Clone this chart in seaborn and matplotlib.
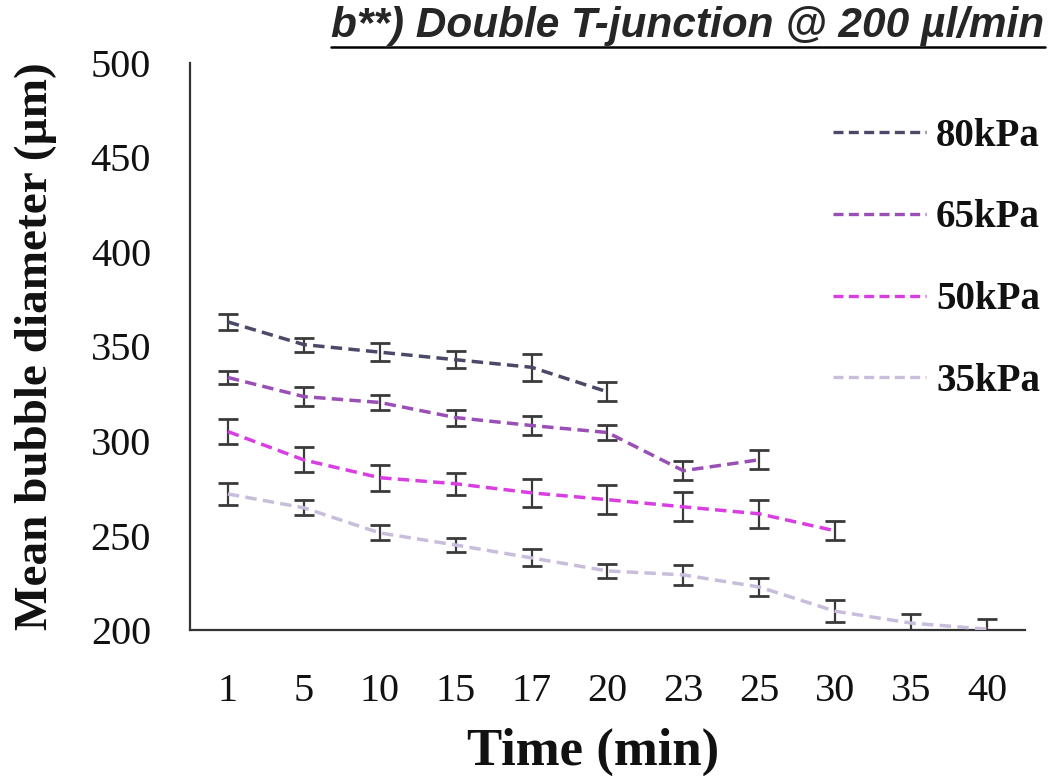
import numpy as np
import pandas as pd
import matplotlib
matplotlib.use("Agg")
import matplotlib.pyplot as plt
from matplotlib.lines import Line2D
import seaborn as sns

# ---- data ----
times = ["1", "5", "10", "15", "17", "20", "23", "25", "30", "35", "40"]
series_names = ["80kPa", "65kPa", "50kPa", "35kPa"]
vals_80 = [363, 351, 347, 343, 339, 326]
err_80 = [4.2, 3.7, 4.8, 4.5, 7.2, 5.0]
vals_65 = [333.6, 323.5, 320.4, 312.4, 308.2, 304.5, 284.3, 290.1]
err_65 = [3.4, 5.0, 4.0, 4.2, 4.8, 4.0, 5.0, 5.0]
vals_50 = [305, 290, 280.6, 277.4, 272.6, 269, 265.2, 261.5, 252.5]
err_50 = [6.6, 6.6, 6.9, 5.8, 7.4, 7.7, 7.7, 7.4, 5.0]
vals_35 = [272, 264.7, 251.4, 245, 238.2, 231.3, 229.2, 222.8, 210, 203.7, 200.5]
err_35 = [5.8, 4.0, 4.0, 3.7, 4.5, 3.7, 5.3, 5.0, 5.8, 5.0, 5.5]
colors = ["#4b4968", "#9a4fb6", "#d83ee2", "#c8bedb"]

all_vals = [vals_80, vals_65, vals_50, vals_35]
all_errs = [err_80, err_65, err_50, err_35]

rows = []
for name, v, e in zip(series_names, all_vals, all_errs):
    for i, (yy, ee) in enumerate(zip(v, e)):
        rows.append({"pos": i, "time": times[i], "series": name, "value": yy, "err": ee})
df = pd.DataFrame(rows)

sns.set_style("white")
plt.rcParams["font.family"] = ["Liberation Serif", "DejaVu Serif"]

fig = plt.figure(figsize=(10.53, 7.76), dpi=100)
ax = fig.add_axes([0.1804, 0.188, 0.7930, 0.731])

dash = (3.3, 1.8)
sns.lineplot(data=df, x="pos", y="value", hue="series", hue_order=series_names,
             palette=colors, linewidth=2.5, legend=False, ax=ax, zorder=3,
             sort=False, estimator=None)
for ln in ax.get_lines():
    ln.set_dashes(dash)

# error bars
for name in series_names:
    sub = df[df["series"] == name]
    ax.errorbar(sub["pos"], sub["value"], yerr=sub["err"], fmt="none",
                ecolor="#3a3a3a", elinewidth=1.6, capsize=7.5, capthick=2.0, zorder=2)

ax.set_xlim(-0.5, 10.5)
ax.set_ylim(200, 500)
ax.set_xticks(range(len(times)))
ax.set_xticklabels(times)
ax.set_xticks(np.arange(0.5, 11, 1), minor=True)
ax.set_yticks(np.arange(200, 501, 50))
ax.tick_params(axis="x", which="major", length=0, labelsize=29, pad=31, colors="#111")
ax.tick_params(axis="x", which="minor", direction="in", length=10, width=1.5, color="#333")
ax.tick_params(axis="y", which="major", direction="in", length=9, width=1.5, color="#333",
               labelsize=29, pad=28, labelcolor="#111")
for s in ["top", "right"]:
    ax.spines[s].set_visible(False)
for s in ["left", "bottom"]:
    ax.spines[s].set_color("#333")
    ax.spines[s].set_linewidth(1.6)

ax.set_xlabel("Time (min)", fontsize=38, fontweight="bold", labelpad=14, color="#111")
ax.xaxis.set_label_coords(0.483, -0.172)
ax.set_ylabel("Mean bubble diameter (µm)", fontsize=34, fontweight="bold", labelpad=24, color="#111")

handles = [Line2D([0], [0], color=c, lw=2.4, dashes=(3.0, 1.6)) for c in colors]
leg = ax.legend(handles, series_names, loc="upper right", bbox_to_anchor=(1.06, 0.965),
                frameon=False, handlelength=2.4, handletextpad=0.25, labelspacing=1.15,
                prop={"family": "Liberation Serif", "weight": "bold", "size": 28})
for t in leg.get_texts():
    t.set_color("#111")

title = fig.text(0.992, 0.966, "b**) Double T-junction @ 200 µl/min", ha="right", va="center",
                 fontsize=30.5, fontweight="bold", fontstyle="italic",
                 family=["Liberation Sans", "DejaVu Sans"])
fig.canvas.draw()
bb = title.get_window_extent()
y_ul = bb.y0 - 1
fig.add_artist(Line2D([bb.x0 / fig.bbox.width, bb.x1 / fig.bbox.width],
                      [y_ul / fig.bbox.height, y_ul / fig.bbox.height],
                      transform=fig.transFigure, color="black", lw=1.8))

fig.savefig("out.png", dpi=100)
